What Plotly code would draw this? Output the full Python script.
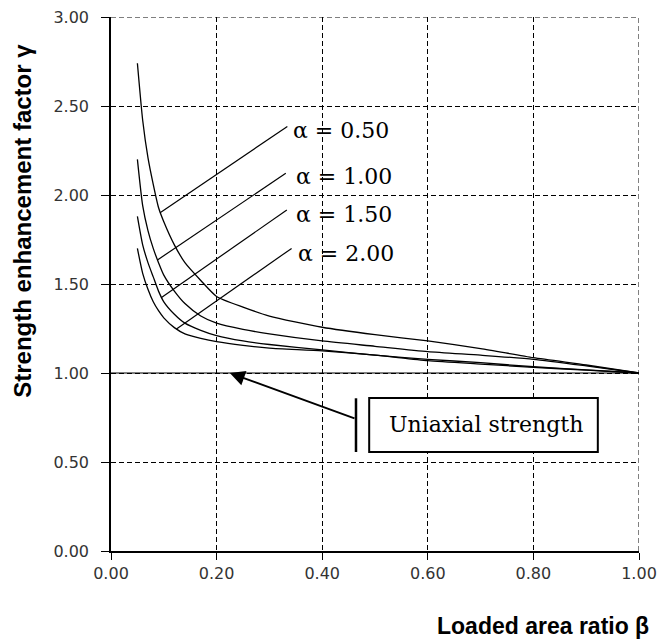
import plotly.graph_objects as go

# ---------------- data ----------------
beta = [0.05, 0.06, 0.07, 0.08, 0.09, 0.10, 0.12, 0.14, 0.17, 0.20, 0.25, 0.30,
        0.40, 0.50, 0.60, 0.70, 0.80, 0.90, 1.00]
gamma_a050 = [2.74, 2.42, 2.21, 2.06, 1.93, 1.85, 1.72, 1.62, 1.52, 1.43, 1.37, 1.32,
              1.257, 1.215, 1.18, 1.137, 1.086, 1.045, 1.00]
gamma_a100 = [2.20, 1.94, 1.80, 1.70, 1.62, 1.55, 1.46, 1.39, 1.32, 1.28, 1.245, 1.22,
              1.18, 1.15, 1.12, 1.10, 1.077, 1.04, 1.00]
gamma_a150 = [1.88, 1.72, 1.62, 1.54, 1.46, 1.40, 1.33, 1.28, 1.24, 1.21, 1.18, 1.16,
              1.13, 1.10, 1.077, 1.058, 1.035, 1.018, 1.00]
gamma_a200 = [1.70, 1.56, 1.47, 1.40, 1.35, 1.31, 1.255, 1.22, 1.195, 1.176, 1.155, 1.14,
              1.124, 1.10, 1.069, 1.05, 1.032, 1.016, 1.00]

series_labels = ["α = 0.50", "α = 1.00", "α = 1.50", "α = 2.00"]
series_values = [gamma_a050, gamma_a100, gamma_a150, gamma_a200]

# leader lines: (curve point) -> (label point), and label anchor
leader_from = [(0.093, 1.900), (0.088, 1.635), (0.095, 1.423), (0.124, 1.247)]
leader_to = [(0.334, 2.385), (0.331, 2.122), (0.333, 1.916), (0.342, 1.700)]
label_pos = [(0.340, 2.360), (0.346, 2.105), (0.346, 1.893), (0.350, 1.672)]

x_ticks = [0.0, 0.2, 0.4, 0.6, 0.8, 1.0]
y_ticks = [0.0, 0.5, 1.0, 1.5, 2.0, 2.5, 3.0]

uniaxial_level = 1.0
uniaxial_text = "Uniaxial strength"

fig = go.Figure()

for vals in series_values:
    fig.add_trace(go.Scatter(x=beta, y=vals, mode="lines",
                             line=dict(color="black", width=1.3, shape="spline", smoothing=0.6),
                             showlegend=False, hoverinfo="skip"))

grid_dash = "5px,3px"
shapes = []
# top and right dashed border gridlines
shapes.append(dict(type="line", xref="x", yref="y", x0=0, x1=1, y0=3, y1=3,
                   line=dict(color="black", width=1, dash=grid_dash), layer="below"))
shapes.append(dict(type="line", xref="x", yref="y", x0=1, x1=1, y0=0, y1=3,
                   line=dict(color="black", width=1, dash=grid_dash), layer="below"))
# white block behind alpha labels
shapes.append(dict(type="rect", xref="x", yref="y", x0=0.337, x1=0.547, y0=1.624, y1=2.444,
                   fillcolor="white", line=dict(width=0), layer="below"))
# solid uniaxial line
shapes.append(dict(type="line", xref="x", yref="y", x0=0, x1=1, y0=uniaxial_level, y1=uniaxial_level,
                   line=dict(color="black", width=1.2), layer="below"))
# leader lines
for (x0, y0), (x1, y1) in zip(leader_from, leader_to):
    shapes.append(dict(type="line", xref="x", yref="y", x0=x0, y0=y0, x1=x1, y1=y1,
                       line=dict(color="black", width=1.2)))
# vertical bar & box for uniaxial label
shapes.append(dict(type="line", xref="x", yref="y", x0=0.464, x1=0.464, y0=0.556, y1=0.858,
                   line=dict(color="black", width=2.5)))
shapes.append(dict(type="rect", xref="x", yref="y", x0=0.489, x1=0.922, y0=0.556, y1=0.860,
                   fillcolor="white", line=dict(color="black", width=2)))

annotations = []
for txt, (lx, ly) in zip(series_labels, label_pos):
    annotations.append(dict(x=lx, y=ly, xref="x", yref="y", text=txt, showarrow=False,
                            xanchor="left", yanchor="middle",
                            font=dict(family="DejaVu Serif", size=22, color="black")))
annotations.append(dict(x=0.523, y=0.708, xref="x", yref="y", text=uniaxial_text, showarrow=False,
                        xanchor="left", yanchor="middle",
                        font=dict(family="DejaVu Serif", size=22, color="black")))
# arrow
annotations.append(dict(x=0.225, y=uniaxial_level, xref="x", yref="y", ax=0.464, ay=0.742,
                        axref="x", ayref="y", text="", showarrow=True, arrowhead=2,
                        arrowsize=1.5, arrowwidth=2, arrowcolor="black", standoff=0))
# axis titles
annotations.append(dict(x=-0.167, y=0.618, xref="paper", yref="paper",
                        text="<b>Strength enhancement factor γ</b>", showarrow=False,
                        textangle=-90, xanchor="center", yanchor="middle",
                        font=dict(family="Liberation Sans, Arial", size=24, color="black")))
annotations.append(dict(x=1.022, y=-0.141, xref="paper", yref="paper",
                        text="<b>Loaded area ratio β</b>", showarrow=False,
                        xanchor="right", yanchor="middle",
                        font=dict(family="Liberation Sans, Arial", size=23, color="black")))

fig.update_layout(
    width=657, height=641,
    margin=dict(l=111, r=18, t=17, b=90, autoexpand=False),
    paper_bgcolor="white", plot_bgcolor="white",
    shapes=shapes, annotations=annotations,
    showlegend=False,
)
fig.update_xaxes(range=[0, 1], tickvals=x_ticks, ticktext=[f"{v:.2f}" for v in x_ticks],
                 showgrid=True, gridcolor="black", gridwidth=1, griddash=grid_dash,
                 showline=True, linecolor="black", linewidth=1.5,
                 ticks="outside", ticklen=7, tickcolor="black",
                 tickfont=dict(family="DejaVu Sans", size=16, color="#333"),
                 ticklabeloverflow="allow",
                 automargin=False, zeroline=False, mirror=False)
fig.update_yaxes(range=[0, 3], tickvals=y_ticks, ticktext=[f"{v:.2f}" for v in y_ticks],
                 showgrid=True, gridcolor="black", gridwidth=1, griddash=grid_dash,
                 showline=True, linecolor="black", linewidth=1.5,
                 ticks="outside", ticklen=8, tickcolor="black",
                 tickfont=dict(family="DejaVu Sans", size=16, color="#333"),
                 ticklabelstandoff=9, ticklabeloverflow="allow", automargin=False,
                 zeroline=False, mirror=False)

# remove the default 8px page margin so the figure fills the window exactly
fig.write_html("out.html", config={"displayModeBar": False},
               post_script="document.body.style.margin='0';document.body.style.overflow='hidden';")
